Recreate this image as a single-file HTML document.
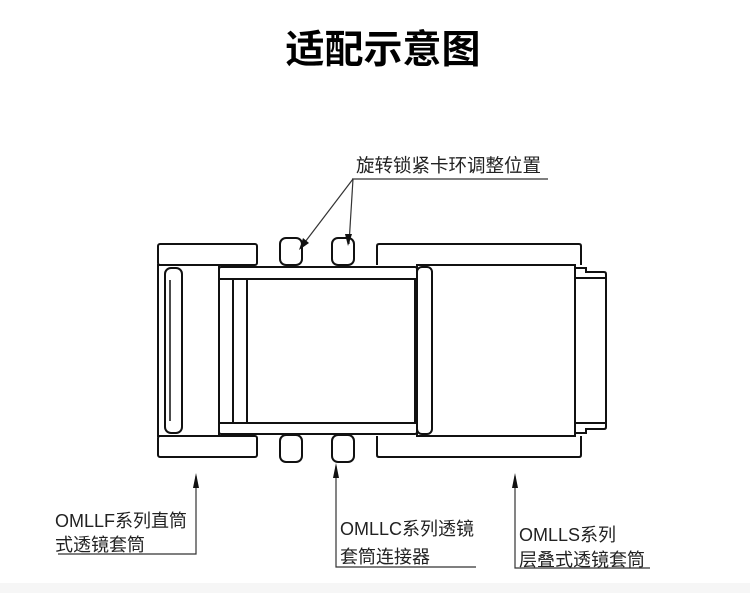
<!DOCTYPE html>
<html><head><meta charset="utf-8"><style>
html,body{margin:0;padding:0;background:#fff;}
svg{display:block;}
text{font-family:"Liberation Sans","Noto Sans CJK SC",sans-serif;fill:#222;}
</style></head><body>
<svg width="750" height="593" viewBox="0 0 750 593" xmlns="http://www.w3.org/2000/svg">
<rect x="0" y="583" width="750" height="10" fill="#f6f6f6"/>
<text x="383" y="63" font-size="39" font-weight="bold" text-anchor="middle" style="fill:#000">适配示意图</text>
<g fill="none" stroke="#111" stroke-width="2">
  <rect x="158" y="244" width="99" height="21" rx="2"/>
  <rect x="158" y="436" width="99" height="21" rx="2"/>
  <rect x="158" y="265" width="61" height="171"/>
  <rect x="165" y="268" width="17" height="165" rx="6"/>
  <line x1="170" y1="280" x2="170" y2="421" stroke-width="1.5"/>
  <rect x="280" y="238" width="22" height="27" rx="6"/>
  <rect x="332" y="238" width="22" height="27" rx="6"/>
  <rect x="280" y="435" width="22" height="27" rx="6"/>
  <rect x="332" y="435" width="22" height="27" rx="6"/>
  <rect x="219" y="267" width="198" height="167" rx="2"/>
  <line x1="219" y1="279" x2="417" y2="279"/>
  <line x1="219" y1="423" x2="417" y2="423"/>
  <rect x="233" y="279" width="14" height="144"/>
  <rect x="247" y="279" width="168" height="144"/>
  <rect x="417" y="267" width="15" height="167" rx="5"/>
  <path d="M377 265 V246 Q377 244 379 244 H579 Q581 244 581 246 V265"/>
  <path d="M377 436 V455 Q377 457 379 457 H579 Q581 457 581 455 V436"/>
  <rect x="417" y="265" width="158" height="171"/>
  <path d="M575 268 H586 V272 H604 Q606 272 606 274 V427 Q606 429 604 429 H586 V433 H575"/>
  <line x1="575" y1="278" x2="606" y2="278"/>
  <line x1="575" y1="423" x2="606" y2="423"/>
</g>
<text x="356" y="172" font-size="18.5">旋转锁紧卡环调整位置</text>
<g stroke="#333" stroke-width="1.2" fill="none">
  <line x1="352" y1="179" x2="548" y2="179"/>
  <line x1="353" y1="179" x2="302" y2="246"/>
  <line x1="353" y1="179" x2="349" y2="244"/>
</g>
<polygon points="299,250 303,238 309,243" fill="#111"/>
<polygon points="348,246 345,234 352,234" fill="#111"/>
<g stroke="#333" stroke-width="1.2" fill="none">
  <polyline points="196,476 196,554 58,554"/>
  <polyline points="336,466 336,567 476,567"/>
  <polyline points="515,476 515,568 650,568"/>
</g>
<polygon points="196,473 193,488 199,488" fill="#111"/>
<polygon points="336,463 333,478 339,478" fill="#111"/>
<polygon points="515,473 512,488 518,488" fill="#111"/>
<text x="55" y="527" font-size="18">OMLLF系列直筒</text>
<text x="55" y="551" font-size="18">式透镜套筒</text>
<text x="340" y="535" font-size="18">OMLLC系列透镜</text>
<text x="340" y="563" font-size="18">套筒连接器</text>
<text x="519" y="541" font-size="18">OMLLS系列</text>
<text x="519" y="566" font-size="18">层叠式透镜套筒</text>
</svg>
</body></html>
